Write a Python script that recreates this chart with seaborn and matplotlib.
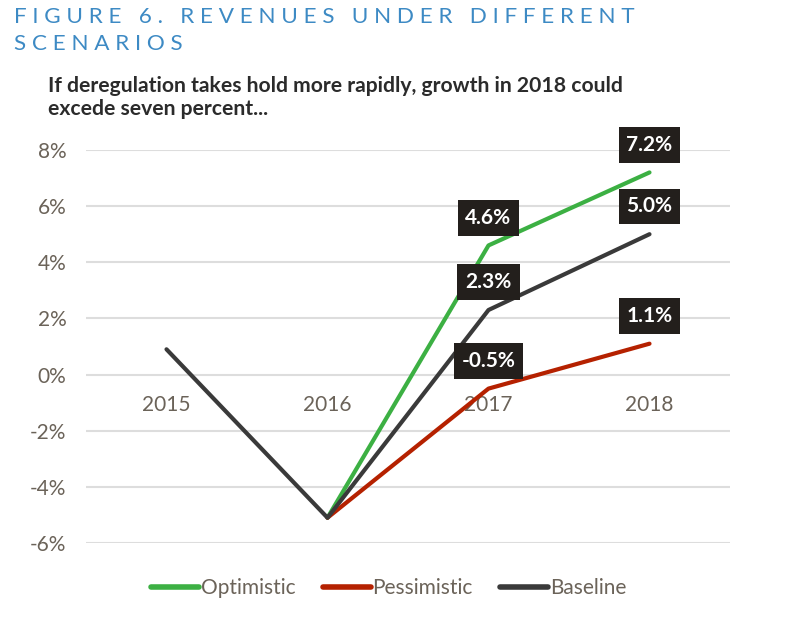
import matplotlib
matplotlib.use('Agg')
import matplotlib.pyplot as plt
import seaborn as sns
import pandas as pd

# data
years = ['2015', '2016', '2017', '2018']
baseline = [0.9, -5.1, 2.3, 5.0]
optimistic = [None, -5.1, 4.6, 7.2]
pessimistic = [None, -5.1, -0.5, 1.1]
scenarios = ['Optimistic', 'Pessimistic', 'Baseline']
colors = ['#3cb043', '#b52100', '#3a3a3a']
y_ticks = [-6, -4, -2, 0, 2, 4, 6, 8]

rows = []
for name, vals in [('Baseline', baseline), ('Optimistic', optimistic), ('Pessimistic', pessimistic)]:
    for yr, v in zip(years, vals):
        if v is not None:
            rows.append({'year': yr, 'value': v, 'scenario': name})
df = pd.DataFrame(rows)

sns.set_style('white')
plt.rcParams['font.family'] = ['Lato', 'DejaVu Sans']

fig = plt.figure(figsize=(8, 6.32), dpi=100)
ax = fig.add_axes([0.1075, 0.1408, 0.805, 0.6219])

sns.lineplot(data=df, x='year', y='value', hue='scenario', hue_order=scenarios,
             palette=colors, linewidth=3, ax=ax, sort=False)

ax.set_xlim(-0.5, 3.5)
ax.set_ylim(-6, 8)
ax.set_yticks(y_ticks)
ax.set_yticklabels([f'{t}%' for t in y_ticks])
ax.yaxis.grid(True, color='#dddddd', linewidth=1.5)
ax.set_axisbelow(True)
for s in ax.spines.values():
    s.set_visible(False)
ax.spines['bottom'].set_position(('data', 0))
ax.tick_params(axis='x', length=0, pad=15, labelsize=15, labelcolor='#6b6359')
ax.tick_params(axis='y', length=0, pad=14, labelsize=15, labelcolor='#6b6359')
ax.set_xlabel('')
ax.set_ylabel('')

# value labels
label_pts = [(2, optimistic[2]), (3, optimistic[3]), (2, baseline[2]), (3, baseline[3]),
             (2, pessimistic[2]), (3, pessimistic[3])]
for x, v in label_pts:
    ax.annotate(f'{v:.1f}%', (x, v), xytext=(0, 20), textcoords='offset points',
                ha='center', va='center', color='white', fontsize=15, fontweight='bold',
                bbox=dict(boxstyle='square,pad=0.38', fc='#231f1c', ec='none'))

leg = ax.legend(loc='center', bbox_to_anchor=(0.47, -0.115), ncol=3, frameon=False,
                fontsize=15, handlelength=2.3, handletextpad=0.1, columnspacing=1.3)
for t in leg.get_texts():
    t.set_color('#6b6359')
for l in leg.get_lines():
    l.set_linewidth(4)
    l.set_solid_capstyle('round')

fig.text(0.018, 0.973, 'F I G U R E   6 .   R E V E N U E S   U N D E R   D I F F E R E N T',
         fontsize=16.2, color='#3d8ac4', va='center', ha='left')
fig.text(0.018, 0.931, 'S C E N A R I O S', fontsize=16.2, color='#3d8ac4', va='center', ha='left')
fig.text(0.06, 0.846, 'If deregulation takes hold more rapidly, growth in 2018 could\nexcede seven percent...',
         fontsize=15.2, fontweight='bold', color='#2b2b2b', va='center', ha='left', linespacing=1.2)

plt.savefig('out.png', dpi=100)
plt.close()
